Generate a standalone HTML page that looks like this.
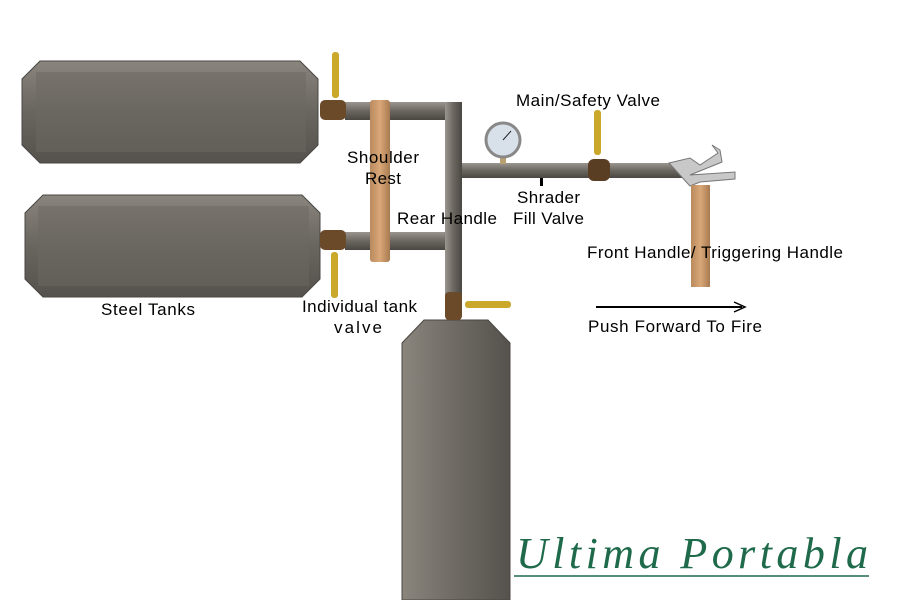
<!DOCTYPE html>
<html><head><style>body{margin:0;background:#fff}svg{display:block}</style></head><body>
<svg width="900" height="600" viewBox="0 0 900 600" xmlns="http://www.w3.org/2000/svg" font-family="Liberation Sans, sans-serif">
<defs>
<linearGradient id="tk" x1="0" y1="0" x2="0" y2="1"><stop offset="0" stop-color="#8a857d"/><stop offset="0.5" stop-color="#69655f"/><stop offset="1" stop-color="#55524d"/></linearGradient>
<linearGradient id="tkv" x1="0" y1="0" x2="1" y2="0"><stop offset="0" stop-color="#8a857d"/><stop offset="0.5" stop-color="#6e6a63"/><stop offset="1" stop-color="#55524d"/></linearGradient>
<linearGradient id="ph" x1="0" y1="0" x2="0" y2="1"><stop offset="0" stop-color="#9a968f"/><stop offset="0.5" stop-color="#6b6760"/><stop offset="1" stop-color="#4a4743"/></linearGradient>
<linearGradient id="pv" x1="0" y1="0" x2="1" y2="0"><stop offset="0" stop-color="#9a968f"/><stop offset="0.5" stop-color="#6b6760"/><stop offset="1" stop-color="#4a4743"/></linearGradient>
<linearGradient id="wd" x1="0" y1="0" x2="1" y2="0"><stop offset="0" stop-color="#b98a5e"/><stop offset="0.5" stop-color="#d9a878"/><stop offset="1" stop-color="#a87a50"/></linearGradient>
</defs>
<polygon points="40,61 300,61 318,79 318,145 300,163 40,163 22,145 22,79" fill="url(#tk)" stroke="#4a4743"/>
<polygon points="36,72 306,72 306,152 36,152" fill="#6c6862" opacity="0.5"/>
<polygon points="43,195 302,195 320,213 320,279 302,297 43,297 25,279 25,213" fill="url(#tk)" stroke="#4a4743"/>
<polygon points="38,206 309,206 309,286 38,286" fill="#6c6862" opacity="0.5"/>
<polygon points="402,343 402,600 510,600 510,343 488,320 424,320" fill="url(#tkv)" stroke="#4a4743"/>
<rect x="345" y="102" width="117" height="18" fill="url(#ph)"/>
<rect x="345" y="232" width="117" height="18" fill="url(#ph)"/>
<rect x="445" y="102" width="17" height="198" fill="url(#pv)"/>
<rect x="462" y="163" width="228" height="15" fill="url(#ph)"/>
<rect x="320" y="100" width="26" height="20" rx="5" fill="#6b4a2a"/>
<rect x="320" y="230" width="26" height="20" rx="5" fill="#6b4a2a"/>
<rect x="445" y="292" width="17" height="28" rx="4" fill="#6b4a2a"/>
<rect x="588" y="159" width="22" height="22" rx="6" fill="#5a3e24"/>
<rect x="332" y="52" width="7" height="46" rx="3" fill="#c9a82a"/>
<rect x="331" y="252" width="7" height="46" rx="3" fill="#c9a82a"/>
<rect x="465" y="301" width="46" height="7" rx="3" fill="#c9a82a"/>
<rect x="594" y="110" width="7" height="45" rx="3" fill="#c9a82a"/>
<rect x="500" y="155" width="6" height="9" fill="#b9a070"/>
<circle cx="503" cy="140" r="17" fill="#d8e0ea" stroke="#888" stroke-width="3"/>
<line x1="503" y1="140" x2="511" y2="131" stroke="#222"/>
<rect x="540" y="178" width="3" height="8" fill="#000"/>
<path d="M669,163 L690,158 L700,165 L718,153 L712,145 L720,150 L722,162 L690,175 L735,172 L735,179 L700,182 L690,186 Z" fill="#c8c8c8" stroke="#777"/>
<rect x="370" y="100" width="20" height="162" rx="3" fill="url(#wd)"/>
<rect x="691" y="185" width="19" height="102" fill="url(#wd)"/>
<line x1="596" y1="307" x2="742" y2="307" stroke="#000" stroke-width="2"/>
<polyline points="734,302 745,307 734,312" fill="none" stroke="#000" stroke-width="1.5"/>
<g font-size="17" fill="#000" lengthAdjust="spacingAndGlyphs">
<text x="516" y="106" textLength="144">Main/Safety Valve</text>
<text x="347" y="163" textLength="72">Shoulder</text>
<text x="365" y="184" textLength="36">Rest</text>
<text x="517" y="203" textLength="63">Shrader</text>
<text x="513" y="224" textLength="71">Fill Valve</text>
<text x="397" y="224" textLength="100">Rear Handle</text>
<text x="587" y="258" textLength="256">Front Handle/ Triggering Handle</text>
<text x="101" y="315" textLength="94">Steel Tanks</text>
<text x="302" y="312" textLength="115">Individual tank</text>
<text x="334" y="333" textLength="48">valve</text>
<text x="588" y="332" textLength="174">Push Forward To Fire</text>
</g>
<text x="516" y="568" font-family="Liberation Serif, serif" font-style="italic" font-size="44" fill="#1e6a4a" textLength="352">Ultima Portabla</text>
<line x1="514" y1="576" x2="869" y2="576" stroke="#1e6a4a" stroke-width="1.5"/>
</svg>
</body></html>
